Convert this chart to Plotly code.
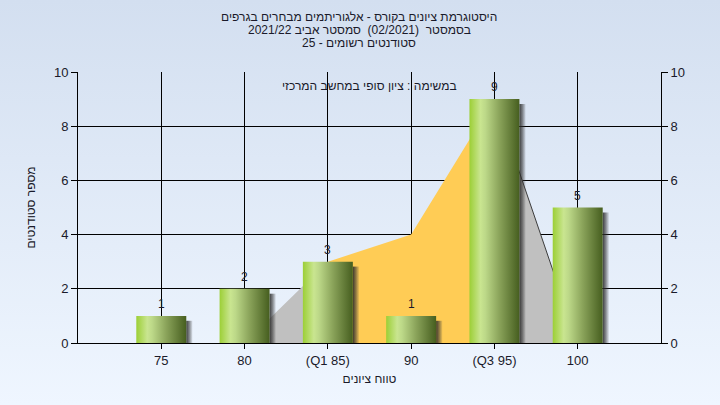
import base64
import plotly.graph_objects as go

# ---------------- data ----------------
categories = ["75", "80", "(Q1 85)", "90", "(Q3 95)", "100"]
bar_values = [1, 2, 3, 1, 9, 5]
area_values = [0, 0, 3, 4, 9, 0]
y_ticks = [0, 2, 4, 6, 8, 10]

title_lines = [
    "היסטוגרמת ציונים בקורס - אלגוריתמים מבחרים בגרפים",
    "בסמסטר  (02/2021)  סמסטר אביב 2021/22",
    "סטודנטים רשומים - 25",
]
subtitle_text = "במשימה : ציון סופי במחשב המרכזי"
x_title = "טווח ציונים"
y_title = "מספר סטודנטים"

# ---------------- geometry / style ----------------
W, H = 720, 405
ML, MR, MT, MB = 78, 59, 72, 62
PW, PH = W - ML - MR, H - MT - MB
FONT = "Liberation Sans, Arial, sans-serif"
TXT = "#1a1a2a"
BAR_W = 0.6
SH_DX, SH_DY = 0.075, 0.18
x_pos = list(range(len(categories)))

fig = go.Figure()

# background area series (gray / yellow Q1-Q3 band)
segments = [(0, 2, "#c0c0c0", 0), (2, 4, "#ffcc55", 0), (4, 5, "#c0c0c0", 1)]
for a, b, col, lw in segments:
    fig.add_trace(go.Scatter(
        x=x_pos[a:b + 1], y=area_values[a:b + 1], mode="lines",
        fill="tozeroy", fillcolor=col,
        line=dict(color="#3c3c3c" if lw else "rgba(0,0,0,0)", width=lw if lw else 0),
        hoverinfo="skip", showlegend=False))

# bar shadows (right strip)
for c, v in zip(x_pos, bar_values):
    x0 = c + BAR_W / 2
    fig.add_trace(go.Scatter(
        x=[x0, x0 + SH_DX, x0 + SH_DX, x0, x0],
        y=[0, 0, v - SH_DY, v - SH_DY, 0],
        mode="lines", fill="toself",
        fillgradient=dict(type="horizontal",
                          colorscale=[[0, "rgba(40,40,40,0.9)"], [0.5, "rgba(50,50,50,0.55)"],
                                      [1, "rgba(60,60,60,0.08)"]]),
        line=dict(width=0, color="rgba(0,0,0,0)"),
        hoverinfo="skip", showlegend=False))

# cylinder-shaded bars
bar_scale = [[0, "#9ccf36"], [0.22, "#c9e590"], [0.32, "#bcd888"],
             [0.6, "#8aa35a"], [1, "#465e1f"]]
for c, v, lab in zip(x_pos, bar_values, categories):
    x0, x1 = c - BAR_W / 2, c + BAR_W / 2
    fig.add_trace(go.Scatter(
        x=[x0, x1, x1, x0, x0], y=[0, 0, v, v, 0],
        mode="lines", fill="toself",
        fillgradient=dict(type="horizontal", colorscale=bar_scale),
        line=dict(width=0, color="rgba(0,0,0,0)"),
        name=lab, hovertemplate=f"{lab}: {v}<extra></extra>", showlegend=False))

# right axis anchor trace
fig.add_trace(go.Scatter(x=[None], y=[None], yaxis="y2", showlegend=False, hoverinfo="skip"))

# background gradient
svg = (f'<svg xmlns="http://www.w3.org/2000/svg" width="{W}" height="{H}" '
       f'preserveAspectRatio="none"><defs><linearGradient id="g" x1="0" y1="0" x2="0" y2="1">'
       f'<stop offset="0" stop-color="#d3dff0"/><stop offset="1" stop-color="#eff6ff"/>'
       f'</linearGradient></defs><rect width="{W}" height="{H}" fill="url(#g)"/></svg>')
src = "data:image/svg+xml;base64," + base64.b64encode(svg.encode()).decode()

annotations = []
for i, line in enumerate(title_lines):
    ypx = 17 + 13 * i
    annotations.append(dict(
        text=line, xref="paper", yref="paper", x=(359 - ML) / PW, y=(H - MB - ypx) / PH,
        xanchor="center", yanchor="middle", showarrow=False,
        font=dict(family=FONT, size=12, color=TXT)))
annotations.append(dict(
    text=subtitle_text, xref="paper", yref="paper", x=0.5, y=(H - MB - 86) / PH,
    xanchor="center", yanchor="middle", showarrow=False,
    font=dict(family=FONT, size=12, color=TXT)))
# value labels above bars
for c, v in zip(x_pos, bar_values):
    annotations.append(dict(
        text=str(v), x=c, y=v, xref="x", yref="y", xanchor="center", yanchor="bottom",
        yshift=3, showarrow=False, font=dict(family=FONT, size=12, color=TXT)))

axis_common = dict(showline=True, linecolor="black", linewidth=1, ticks="outside",
                   tickcolor="black", zeroline=False,
                   tickfont=dict(family=FONT, size=13, color=TXT))

fig.update_layout(
    width=W, height=H,
    margin=dict(l=ML, r=MR, t=MT, b=MB),
    paper_bgcolor="#e2ebf8", plot_bgcolor="#b4b4b4",
    images=[dict(source=src, xref="paper", yref="paper", x=-ML / PW, y=1 + MT / PH,
                 sizex=W / PW, sizey=H / PH, xanchor="left", yanchor="top",
                 sizing="stretch", layer="below")],
    xaxis=dict(range=[-1, len(categories)], tickmode="array", tickvals=x_pos,
               ticktext=categories, showgrid=True, gridcolor="black", gridwidth=1,
               ticklen=5,
               title=dict(text=x_title, font=dict(family=FONT, size=12, color=TXT), standoff=8),
               **axis_common),
    yaxis=dict(range=[0, 10], tickmode="array", tickvals=y_ticks, showgrid=True,
               gridcolor="black", gridwidth=1, ticklen=6,
               title=dict(text=y_title, font=dict(family=FONT, size=12, color=TXT), standoff=15),
               **axis_common),
    yaxis2=dict(range=[0, 10], tickmode="array", tickvals=y_ticks, overlaying="y",
                side="right", showgrid=False, ticklen=6, **axis_common),
    annotations=annotations,
    showlegend=False,
)

fig.write_html("out.html", config={"displayModeBar": False},
               post_script="document.body.style.margin='0';document.body.style.overflow='hidden';")
